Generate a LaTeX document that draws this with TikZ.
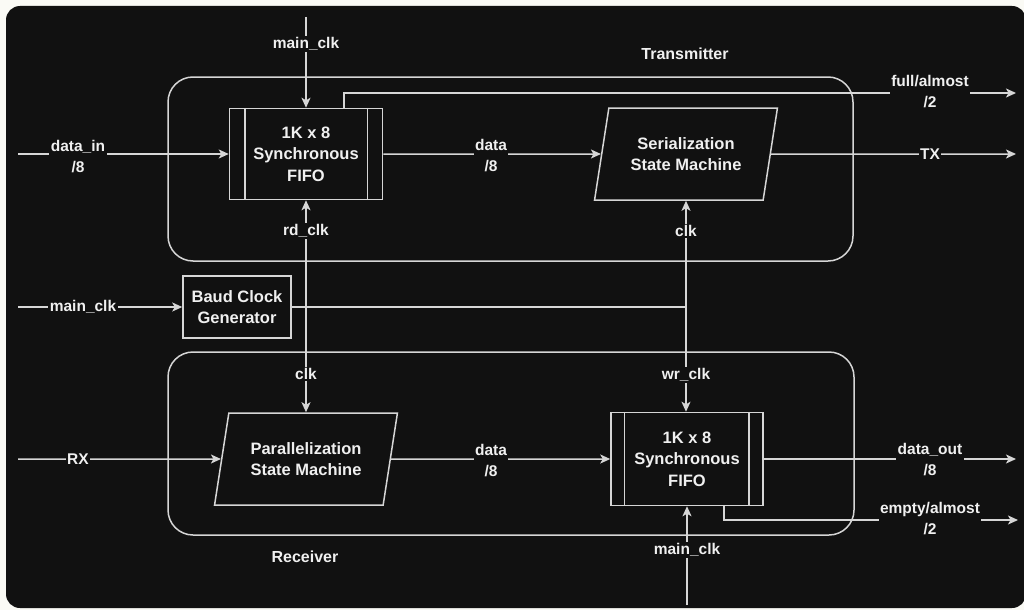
\documentclass[tikz,border=0pt]{standalone}
\usepackage{fontspec}
\setmainfont{Liberation Sans}
\usetikzlibrary{shapes.geometric,arrows.meta,calc}
\definecolor{bg}{HTML}{111111}
\definecolor{pagec}{HTML}{FAFAF5}
\definecolor{lc}{HTML}{D6D6D6}
\definecolor{tc}{HTML}{F0F0F0}
\begin{document}
\begin{tikzpicture}[x=1pt,y=-1pt,
  wire/.style={draw=lc, line width=1.5pt},
  arr/.style={wire, -{Stealth[length=10pt,width=9pt,inset=2.5pt]}},
  grp/.style={draw=lc, line width=1.5pt, rounded corners=25pt},
  boxfont/.style={font=\fontsize{16.5}{21.5}\selectfont\bfseries},
  lbl/.style={fill=bg, text=tc, inner sep=1.5pt, align=center, font=\fontsize{15.5}{21}\selectfont\bfseries},
  ttl/.style={text=tc, inner sep=1pt, font=\fontsize{16}{20}\selectfont\bfseries},
  fifo/.style={draw=lc, line width=1.5pt, fill=bg, text=tc, boxfont, align=center,
    minimum width=153pt, minimum height=91pt, inner sep=0pt},
  plainbox/.style={draw=lc, line width=1.5pt, fill=bg, text=tc, boxfont, align=center,
    minimum width=108pt, minimum height=62pt, inner sep=0pt},
  para/.style={trapezium, trapezium left angle=73, trapezium right angle=107,
    trapezium stretches=true, draw=lc, line width=1.5pt, fill=bg, text=tc, boxfont,
    align=center, minimum width=183pt, minimum height=92pt, inner sep=0pt}
]
\useasboundingbox (0,0) rectangle (1024,610);
\fill[pagec] (0,0) rectangle (1024,610);
\fill[bg, rounded corners=14pt] (6,6) rectangle (1026,608);

% groups
\draw[grp] (168,77) rectangle (853,261);
\draw[grp] (168,352) rectangle (854,535);
\node[ttl] (ttx) at (685,54) {Transmitter};
\node[ttl] (trx) at (305,557) {Receiver};

% blocks
\node[fifo] (f1) at (306,154) {1K x 8\\Synchronous\\FIFO};
\draw[wire] ([xshift=16pt]f1.north west) -- ([xshift=16pt]f1.south west);
\draw[wire] ([xshift=-16pt]f1.north east) -- ([xshift=-16pt]f1.south east);
\node[para] (ser) at (686,154) {Serialization\\State Machine};
\node[plainbox] (baud) at (237,307) {Baud Clock\\Generator};
\node[para] (par) at (306,459) {Parallelization\\State Machine};
\node[fifo, minimum width=152pt, minimum height=93pt] (f2) at (687,459) {1K x 8\\Synchronous\\FIFO};
\draw[wire] ([xshift=14pt]f2.north west) -- ([xshift=14pt]f2.south west);
\draw[wire] ([xshift=-15pt]f2.north east) -- ([xshift=-15pt]f2.south east);

% free ends and junctions
\coordinate (mtop) at (306,17);
\coordinate (distart) at (18,154);
\coordinate (mlstart) at (18,307);
\coordinate (rxstart) at (18,459);
\coordinate (faend) at (1016,93);
\coordinate (txend) at (1016,154);
\coordinate (doend) at (1016,459);
\coordinate (eaend) at (1018,520);
\coordinate (mbstart) at (687,605);
\coordinate (j1) at (306,307);
\coordinate (j2) at (686,307);

% connectors
\draw[arr] (mtop) -- (f1.north);
\draw[arr] (distart) -- (f1.west);
\draw[arr] (f1.east) -- (ser.west);
\draw[arr] ([xshift=38pt]f1.north) |- (faend);
\draw[arr] (ser.east) -- (txend);
\draw[arr] (mlstart) -- (baud.west);
\draw[wire] (baud.east) -- (j2);
\draw[arr] (j1) -- (f1.south);
\draw[arr] (j1) -- (j1 |- par.north);
\draw[arr] (j2) -- (j2 |- ser.south);
\draw[arr] (j2) -- (j2 |- f2.north);
\draw[arr] (rxstart) -- (par.west);
\draw[arr] (par.east) -- (f2.west);
\draw[arr] (f2.east) -- (doend);
\draw[arr] ([xshift=37pt]f2.south) |- (eaend);
\draw[arr] (mbstart) -- (f2.south);

% labels
\node[lbl] (l1) at (306,44) {main\_clk};
\node[lbl] (l2) at (78,157) {data\_in\\/8};
\node[lbl] (l3) at (491,156) {data\\/8};
\node[lbl] (l4) at (930,92) {full/almost\\/2};
\node[lbl] (l5) at (930,154) {TX};
\node[lbl] (l6) at (306,231) {rd\_clk};
\node[lbl] (l7) at (686,231) {clk};
\node[lbl] (l8) at (83,307) {main\_clk};
\node[lbl] (l9) at (306,374) {clk};
\node[lbl] (l10) at (686,375) {wr\_clk};
\node[lbl] (l11) at (78,459) {RX};
\node[lbl] (l12) at (491,461) {data\\/8};
\node[lbl] (l13) at (930,460) {data\_out\\/8};
\node[lbl] (l14) at (930,519) {empty/almost\\/2};
\node[lbl] (l15) at (687,550) {main\_clk};
\end{tikzpicture}
\end{document}
